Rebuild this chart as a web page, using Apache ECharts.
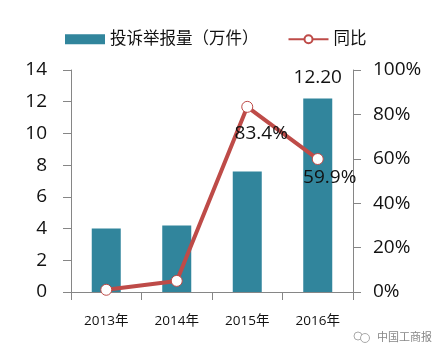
<!DOCTYPE html>
<html>
<head>
<meta charset="utf-8">
<style>
  html, body { margin: 0; padding: 0; background: #fff; }
  #chart { width: 445px; height: 356px; }
</style>
<script src="https://cdn.jsdelivr.net/npm/echarts@6/dist/echarts.min.js"></script>
</head>
<body>
<div id="chart"></div>
<script>
const years = ['2013年', '2014年', '2015年', '2016年'];
const complaints = [4.0, 4.2, 7.6, 12.2];
const yoy = [1, 5, 83.4, 59.9];
const barLabels = ['', '', '', '12.20'];
const lineLabels = ['', '', '83.4%', '59.9%'];
// label nudges for the line series, the original has them placed by hand
const lineLabelOffsets = [[0, 0], [0, 0], [14, 11], [12, 3]];

const FONT = '"Open Sans", "Noto Sans CJK SC", sans-serif';
const AXIS_COLOR = '#868686';

const chart = echarts.init(document.getElementById('chart'), null, { renderer: 'canvas' });
const axisLine = { show: true, lineStyle: { color: AXIS_COLOR, width: 1 } };
const axisTick = { show: true, length: 8, lineStyle: { color: AXIS_COLOR, width: 1 } };

chart.setOption({
  animation: false,
  backgroundColor: '#fff',
  textStyle: { fontFamily: FONT },
  legend: {
    left: 60,
    top: 26,
    itemWidth: 40,
    itemHeight: 10,
    itemGap: 29,
    textStyle: { fontFamily: FONT, fontSize: 16.5, color: '#111' },
    data: [
      { name: '投诉举报量（万件）', icon: 'rect' },
      { name: '同比' }
    ]
  },
  grid: { left: 71, right: 92, top: 70, bottom: 64 },
  xAxis: {
    type: 'category',
    data: years,
    axisLine,
    axisTick,
    axisLabel: { fontSize: 13.5, color: '#111', margin: 22, fontFamily: FONT }
  },
  yAxis: [
    {
      type: 'value', min: 0, max: 14, interval: 2,
      axisLine, axisTick, splitLine: { show: false },
      axisLabel: { fontSize: 19, color: '#111', margin: 24, fontFamily: FONT }
    },
    {
      type: 'value', min: 0, max: 100, interval: 20, position: 'right',
      axisLine, axisTick, splitLine: { show: false },
      axisLabel: { fontSize: 19, color: '#111', margin: 20, fontFamily: FONT, formatter: '{value}%' }
    }
  ],
  series: [
    {
      name: '投诉举报量（万件）',
      type: 'bar',
      data: complaints,
      barWidth: 29,
      itemStyle: { color: '#31859c' },
      label: {
        show: true, position: 'top', distance: 11, fontSize: 19, color: '#111', fontFamily: FONT,
        formatter: (p) => barLabels[p.dataIndex]
      }
    },
    {
      name: '同比',
      type: 'line',
      yAxisIndex: 1,
      data: yoy.map((v, i) => ({
        value: v,
        label: { offset: lineLabelOffsets[i] }
      })),
      symbol: 'circle',
      symbolSize: 11,
      lineStyle: { color: '#be4b48', width: 4 },
      itemStyle: { color: '#fff', borderColor: '#be4b48', borderWidth: 1 },
      label: {
        show: true, position: 'bottom', distance: 0, fontSize: 19, color: '#111', fontFamily: FONT,
        formatter: (p) => lineLabels[p.dataIndex]
      }
    }
  ],
  graphic: [
    {
      type: 'text', left: 377, top: 331,
      style: { text: '中国工商报', fontSize: 11, fill: '#888', fontFamily: '"Noto Sans CJK SC", sans-serif' }
    },
    { type: 'circle', shape: { cx: 358, cy: 336, r: 4 }, style: { fill: 'none', stroke: '#aaa', lineWidth: 1 } },
    { type: 'circle', shape: { cx: 365, cy: 338, r: 4.5 }, style: { fill: '#fff', stroke: '#aaa', lineWidth: 1 } }
  ]
});
</script>
</body>
</html>
